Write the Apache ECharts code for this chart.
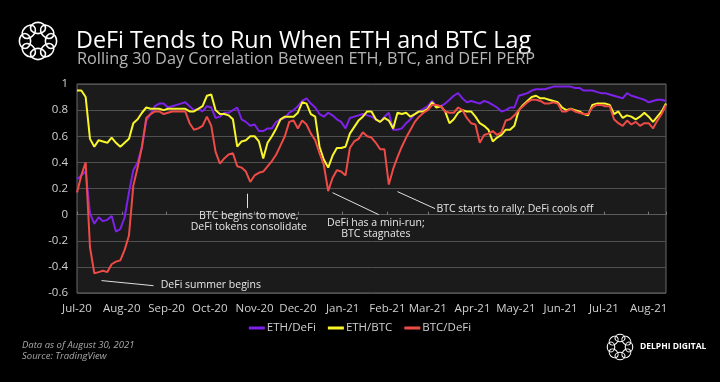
<!DOCTYPE html>
<html><head><meta charset="utf-8">
<script src="https://cdn.jsdelivr.net/npm/echarts@6/dist/echarts.min.js"></script>
<style>html,body{margin:0;padding:0;background:#000;}#c{width:720px;height:382px;}</style>
</head><body><div id="c"></div>
<script>
// ---- data (sampled every 3 days from 1 Jul 2020) ----
const startYear = 2020, startMonth = 6, startDay = 1, stepDays = 3;
const seriesNames = ['ETH/DeFi', 'ETH/BTC', 'BTC/DeFi'];
const ethDefi = [0.27,0.30,0.33,0.01,-0.07,-0.02,-0.05,-0.04,-0.01,-0.13,-0.11,-0.02,0.17,0.34,0.40,0.52,0.72,0.77,0.83,0.85,0.85,0.82,0.83,0.84,0.85,0.86,0.83,0.80,
0.81,0.79,0.83,0.82,0.74,0.75,0.78,0.78,0.80,0.82,0.73,0.71,0.68,0.69,0.64,0.64,0.66,0.66,0.71,0.73,0.74,0.78,0.80,0.83,0.87,0.89,0.85,0.82,
0.77,0.75,0.78,0.76,0.73,0.71,0.66,0.74,0.75,0.76,0.77,0.76,0.75,0.73,0.71,0.75,0.78,0.65,0.65,0.66,0.70,0.73,0.77,0.79,0.81,0.83,0.87,
0.83,0.83,0.85,0.88,0.91,0.93,0.89,0.86,0.87,0.86,0.85,0.87,0.86,0.84,0.82,0.79,0.80,0.82,0.82,0.91,0.92,0.93,0.95,0.96,0.96,0.96,0.97,
0.98,0.98,0.98,0.98,0.98,0.97,0.97,0.95,0.95,0.95,0.94,0.93,0.93,0.92,0.91,0.90,0.89,0.93,0.91,0.90,0.89,0.88,0.86,0.87,0.88,0.88,0.87];
const ethBtc = [0.95,0.95,0.90,0.58,0.52,0.57,0.56,0.55,0.59,0.55,0.52,0.55,0.58,0.70,0.73,0.78,0.82,0.81,0.81,0.81,0.80,0.81,0.81,0.81,0.81,0.81,0.79,0.79,
0.81,0.83,0.91,0.92,0.80,0.77,0.77,0.76,0.73,0.52,0.56,0.57,0.60,0.60,0.56,0.43,0.55,0.60,0.66,0.73,0.75,0.75,0.75,0.78,0.86,0.85,0.77,0.75,
0.52,0.42,0.36,0.45,0.51,0.51,0.52,0.62,0.67,0.72,0.75,0.79,0.79,0.73,0.71,0.74,0.72,0.66,0.78,0.77,0.78,0.75,0.77,0.79,0.79,0.81,0.86,
0.82,0.83,0.79,0.70,0.73,0.78,0.80,0.79,0.79,0.75,0.70,0.68,0.65,0.56,0.59,0.61,0.65,0.65,0.68,0.80,0.84,0.87,0.90,0.91,0.89,0.89,0.88,
0.87,0.86,0.82,0.80,0.81,0.80,0.79,0.77,0.76,0.84,0.85,0.85,0.85,0.84,0.77,0.79,0.74,0.76,0.75,0.73,0.75,0.78,0.75,0.71,0.75,0.79,0.85];
const btcDefi = [0.17,0.30,0.40,-0.25,-0.45,-0.44,-0.43,-0.44,-0.38,-0.36,-0.35,-0.27,-0.16,0.22,0.36,0.52,0.74,0.77,0.79,0.79,0.77,0.78,0.79,0.79,0.79,0.79,0.70,0.65,
0.66,0.68,0.75,0.68,0.48,0.39,0.43,0.46,0.47,0.37,0.36,0.33,0.25,0.30,0.32,0.33,0.37,0.41,0.46,0.53,0.60,0.71,0.72,0.66,0.72,0.69,0.62,0.57,
0.47,0.38,0.18,0.28,0.34,0.33,0.30,0.51,0.56,0.58,0.63,0.60,0.59,0.55,0.50,0.50,0.23,0.35,0.44,0.52,0.59,0.65,0.71,0.75,0.78,0.80,0.84,
0.84,0.83,0.79,0.78,0.78,0.82,0.80,0.74,0.70,0.69,0.55,0.61,0.62,0.64,0.61,0.63,0.72,0.73,0.76,0.80,0.83,0.86,0.88,0.88,0.87,0.85,0.85,
0.86,0.85,0.79,0.79,0.81,0.79,0.78,0.77,0.77,0.82,0.84,0.84,0.83,0.83,0.73,0.70,0.68,0.72,0.69,0.71,0.68,0.70,0.70,0.66,0.72,0.77,0.84];
const monthLabels = ['Jul-20','Aug-20','Sep-20','Oct-20','Nov-20','Dec-20','Jan-21','Feb-21','Mar-21','Apr-21','May-21','Jun-21','Jul-21','Aug-21'];
const yMin = -0.6, yMax = 1, yStep = 0.2;

// annotations (data coordinates)
const arrowFrom = [['2020-08-23',-0.544],['2020-10-27',0.05],['2021-01-26',0.0],['2021-03-06',0.046]];
const arrowTo   = [['2020-07-18',-0.505],['2020-10-27',0.16],['2020-12-25',0.168],['2021-02-08',0.176]];
const noteTexts = ['DeFi summer begins','BTC begins to move,\nDeFi tokens consolidate','DeFi has a mini-run;\nBTC stagnates','BTC starts to rally; DeFi cools off'];
const noteAt    = [['2020-08-28',-0.536],['2020-10-28',0.035],['2021-01-24',-0.02],['2021-03-07',0.046]];
const noteAlign = ['left','center','center','left'];
const noteVAlign = ['middle','top','top','middle'];

// ---- build ----
const dates = ethDefi.map((_, i) => new Date(startYear, startMonth, startDay + i * stepDays).getTime());
const pair = arr => arr.map((v, i) => [dates[i], v]);
const xMin = dates[0], xMax = dates[dates.length - 1];
const colors = ['#7E22EA', '#F8F62A', '#EE4B47'];
const font = '"Open Sans", Lato, sans-serif';

function monthLabel(val) {
  const d = new Date(val);
  const idx = (d.getFullYear() - startYear) * 12 + d.getMonth() - startMonth;
  return monthLabels[idx] || '';
}

function knot(cx, cy, R, r, lw) {
  const ch = [];
  for (let k = 0; k < 8; k++) {
    const a = k * Math.PI / 4;
    ch.push({type: 'ellipse', shape: {cx: cx + R * Math.cos(a), cy: cy + R * Math.sin(a), rx: r, ry: r * 0.75},
      rotation: -a - Math.PI / 2, originX: cx + R * Math.cos(a), originY: cy + R * Math.sin(a),
      style: {fill: 'none', stroke: '#fff', lineWidth: lw}});
  }
  return ch;
}

const chart = echarts.init(document.getElementById('c'), null, {renderer: 'canvas'});
chart.setOption({
  backgroundColor: '#000',
  animation: false,
  textStyle: {fontFamily: font},
  grid: {left: 77, right: 54, top: 84, bottom: 89, show: true, backgroundColor: '#1b1b1b', borderColor: '#6a6a6a', borderWidth: 1},
  xAxis: [{
    type: 'time', min: xMin, max: xMax, splitNumber: 14,
    axisLine: {show: false, onZero: false}, axisTick: {show: false}, splitLine: {show: false},
    axisLabel: {color: '#d0d0d0', fontSize: 11.5, margin: 10, formatter: monthLabel, hideOverlap: false}
  }, {
    type: 'time', min: xMin, max: xMax, splitNumber: 14, position: 'top',
    axisLine: {show: true, onZero: true, lineStyle: {color: '#5a5a5a', width: 1}},
    axisTick: {show: true, length: 3, lineStyle: {color: '#777'}},
    axisLabel: {show: false}, splitLine: {show: false}
  }],
  yAxis: {
    type: 'value', min: yMin, max: yMax, interval: yStep,
    axisLine: {show: false}, axisTick: {show: false},
    splitLine: {lineStyle: {color: '#505050', width: 1}},
    axisLabel: {color: '#d0d0d0', fontSize: 11.5, margin: 9}
  },
  legend: {
    data: seriesNames, top: 317, left: 'center', icon: 'rect', itemWidth: 16, itemHeight: 3, itemGap: 12,
    textStyle: {color: '#cfcfcf', fontSize: 11.5, padding: [0, 0, 0, -3]}
  },
  series: [
    {name: seriesNames[0], type: 'line', data: pair(ethDefi), showSymbol: false, symbol: 'none', color: colors[0], lineStyle: {width: 2}},
    {name: seriesNames[1], type: 'line', data: pair(ethBtc), showSymbol: false, symbol: 'none', color: colors[1], lineStyle: {width: 2}},
    {name: seriesNames[2], type: 'line', data: pair(btcDefi), showSymbol: false, symbol: 'none', color: colors[2], lineStyle: {width: 2}},
    {name: 'notes', type: 'line', data: [], silent: true,
      markLine: {silent: true, animation: false, symbol: ['none', 'arrow'], symbolSize: [0, 7],
        lineStyle: {color: '#e0e0e0', width: 1, type: 'solid'}, label: {show: false},
        emphasis: {disabled: true},
        data: arrowFrom.map((f, i) => [{coord: f}, {coord: arrowTo[i]}])},
      markPoint: {silent: true, animation: false, symbol: 'circle', symbolSize: 0,
        data: noteTexts.map((t, i) => ({coord: noteAt[i], value: t,
          label: {show: true, position: 'inside', formatter: t, color: '#e6e6e6', fontSize: 10.5, lineHeight: 11.5,
            align: noteAlign[i], verticalAlign: noteVAlign[i], fontFamily: font}}))}
    }
  ],
  graphic: [
    {type: 'text', left: 76, top: 30, style: {text: 'DeFi Tends to Run When ETH and BTC Lag', fill: '#fff', font: '23.3px ' + font}},
    {type: 'text', left: 77, top: 51, style: {text: 'Rolling 30 Day Correlation Between ETH, BTC, and DEFI PERP', fill: '#b5b5b5', font: '16.3px ' + font}},
    {type: 'text', left: 22, top: 340, style: {text: 'Data as of August 30, 2021', fill: '#a8a8a8', font: 'italic 9.5px ' + font}},
    {type: 'text', left: 22, top: 351, style: {text: 'Source: TradingView', fill: '#a8a8a8', font: 'italic 9.5px ' + font}},
    {type: 'group', children: knot(38, 41, 13, 7.5, 1.6)},
    {type: 'group', children: knot(620, 347, 9, 5, 1.1)},
    {type: 'text', left: 640, top: 342, style: {text: 'DELPHI DIGITAL', fill: '#fff', font: 'bold 8.5px ' + font}}
  ]
});
</script></body></html>
